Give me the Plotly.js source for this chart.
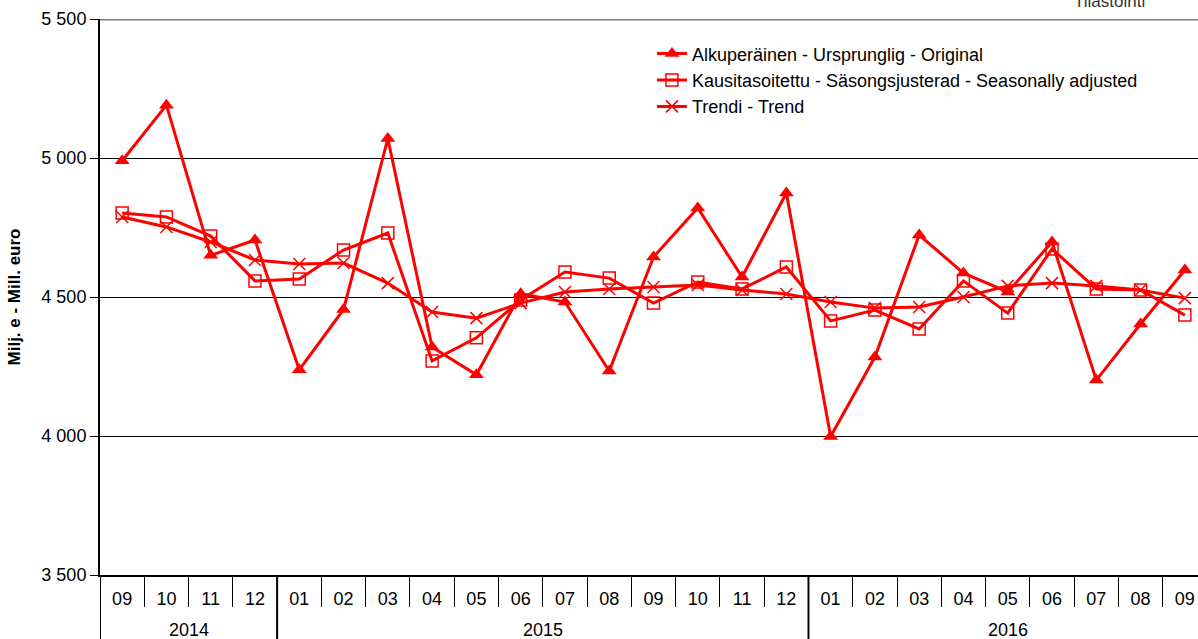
<!DOCTYPE html>
<html>
<head>
<meta charset="utf-8">
<script src="https://cdn.plot.ly/plotly-3.0.1.min.js"></script>
<style>
  html, body { margin: 0; padding: 0; overflow: hidden; background: #fff; }
  #chart { width: 1210px; height: 639px; }
</style>
</head>
<body>
<div id="chart"></div>
<script>
// Months 09/2014 .. 09/2016
const years = ['2014', '2014', '2014', '2014',
  '2015', '2015', '2015', '2015', '2015', '2015', '2015', '2015', '2015', '2015', '2015', '2015',
  '2016', '2016', '2016', '2016', '2016', '2016', '2016', '2016', '2016'];
const months = ['09', '10', '11', '12',
  '01', '02', '03', '04', '05', '06', '07', '08', '09', '10', '11', '12',
  '01', '02', '03', '04', '05', '06', '07', '08', '09'];

// Milj. e
const original = [4990, 5190, 4650, 4705,
  4238, 4455, 5070, 4320, 4220, 4512, 4482, 4234, 4644, 4820, 4572, 4874,
  3998, 4284, 4723, 4586, 4518, 4698, 4201, 4403, 4597];
const seasAdj = [4802, 4788, 4719, 4558,
  4565, 4669, 4730, 4270, 4353, 4489, 4590, 4568, 4478, 4554, 4529, 4608,
  4414, 4453, 4385, 4558, 4442, 4673, 4529, 4525, 4435];
const trend = [4788, 4752, 4698, 4633,
  4619, 4622, 4550, 4446, 4424, 4478, 4518, 4529, 4536, 4543, 4525, 4511,
  4482, 4460, 4464, 4500, 4540, 4550, 4540, 4525, 4496];

const RED = '#ff0000';
const FONT = 'Liberation Sans, Arial, sans-serif';

// one position per month, year groups from the years list
const idx = months.map((m, i) => i);
const groups = [];
years.forEach((y, i) => {
  const g = groups[groups.length - 1];
  if (g && g.year === y) g.end = i;
  else groups.push({ year: y, start: i, end: i });
});
const monthBounds = idx.map(i => i - 0.5).concat([idx.length - 0.5]);

const traces = [
  {
    x: idx, y: original, type: 'scatter', mode: 'lines+markers',
    name: 'Alkuperäinen - Ursprunglig - Original',
    line: { color: RED, width: 3 },
    marker: { symbol: 'triangle-up', size: 13, color: RED },
  },
  {
    x: idx, y: seasAdj, type: 'scatter', mode: 'lines+markers',
    name: 'Kausitasoitettu - Säsongsjusterad - Seasonally adjusted',
    line: { color: RED, width: 3 },
    marker: { symbol: 'square-open', size: 12, color: RED, line: { width: 1.5 } },
  },
  {
    x: idx, y: trend, type: 'scatter', mode: 'lines+markers',
    name: 'Trendi - Trend',
    line: { color: RED, width: 3 },
    marker: { symbol: 'x-thin-open', size: 12, color: RED, line: { width: 1.5, color: RED } },
  },
];

// year separators and year labels below the month row
const shapes = [
  { type: 'line', xref: 'paper', yref: 'y', x0: 0, x1: 1, y0: 5500, y1: 5500,
    line: { color: '#808080', width: 3 } },
];
const annotations = [
  { text: 'Tilastointi', xref: 'paper', yref: 'paper', x: 0.912, y: 1.032,
    xanchor: 'center', yanchor: 'middle', showarrow: false,
    font: { family: FONT, size: 17, color: '#333' } },
];
groups.forEach(g => {
  shapes.push({ type: 'line', xref: 'x', yref: 'paper', x0: g.start - 0.5, x1: g.start - 0.5,
    y0: 0, y1: -0.12, line: { color: '#000', width: 2 } });
  annotations.push({ text: g.year, xref: 'x', yref: 'paper', x: (g.start + g.end) / 2, y: -0.099,
    xanchor: 'center', yanchor: 'middle', showarrow: false, font: { family: FONT, size: 18 } });
});
const last = groups[groups.length - 1];
shapes.push({ type: 'line', xref: 'x', yref: 'paper', x0: last.end + 0.5, x1: last.end + 0.5,
  y0: 0, y1: -0.12, line: { color: '#000', width: 2 } });

const layout = {
  width: 1210, height: 639,
  margin: { l: 100, r: 3, t: 19, b: 64 },
  paper_bgcolor: '#fff', plot_bgcolor: '#fff',
  font: { family: FONT, size: 18, color: '#000' },
  separators: ', ',
  showlegend: true,
  legend: {
    x: 0.4986, y: 0.9705, xanchor: 'left', yanchor: 'top',
    bgcolor: 'rgba(0,0,0,0)', font: { family: FONT, size: 18 },
    tracegroupgap: 0,
  },
  xaxis: {
    type: 'linear',
    range: [-0.5, 24.5],
    tickmode: 'array', tickvals: idx, ticktext: months,
    ticks: '', ticklabelstandoff: 6,
    minor: { tickmode: 'array', tickvals: monthBounds, ticks: 'outside', ticklen: 30,
      tickwidth: 1, tickcolor: '#000', showgrid: false },
    showline: true, linecolor: '#000', linewidth: 2,
    showgrid: false, zeroline: false,
    tickfont: { family: FONT, size: 18 },
  },
  yaxis: {
    range: [3500, 5500],
    tickvals: [3500, 4000, 4500, 5000, 5500],
    tickformat: ',d',
    showline: true, linecolor: '#000', linewidth: 2,
    ticks: 'outside', ticklen: 8, tickcolor: '#000', tickwidth: 1,
    showgrid: true, gridcolor: '#000', gridwidth: 1,
    zeroline: false,
    tickfont: { family: FONT, size: 18 },
    title: { text: '<b>Milj. e - Mill. euro</b>', font: { family: FONT, size: 17 }, standoff: 16 },
  },
  shapes,
  annotations,
};

Plotly.newPlot('chart', traces, layout, { displayModeBar: false, staticPlot: true });
</script>
</body>
</html>
